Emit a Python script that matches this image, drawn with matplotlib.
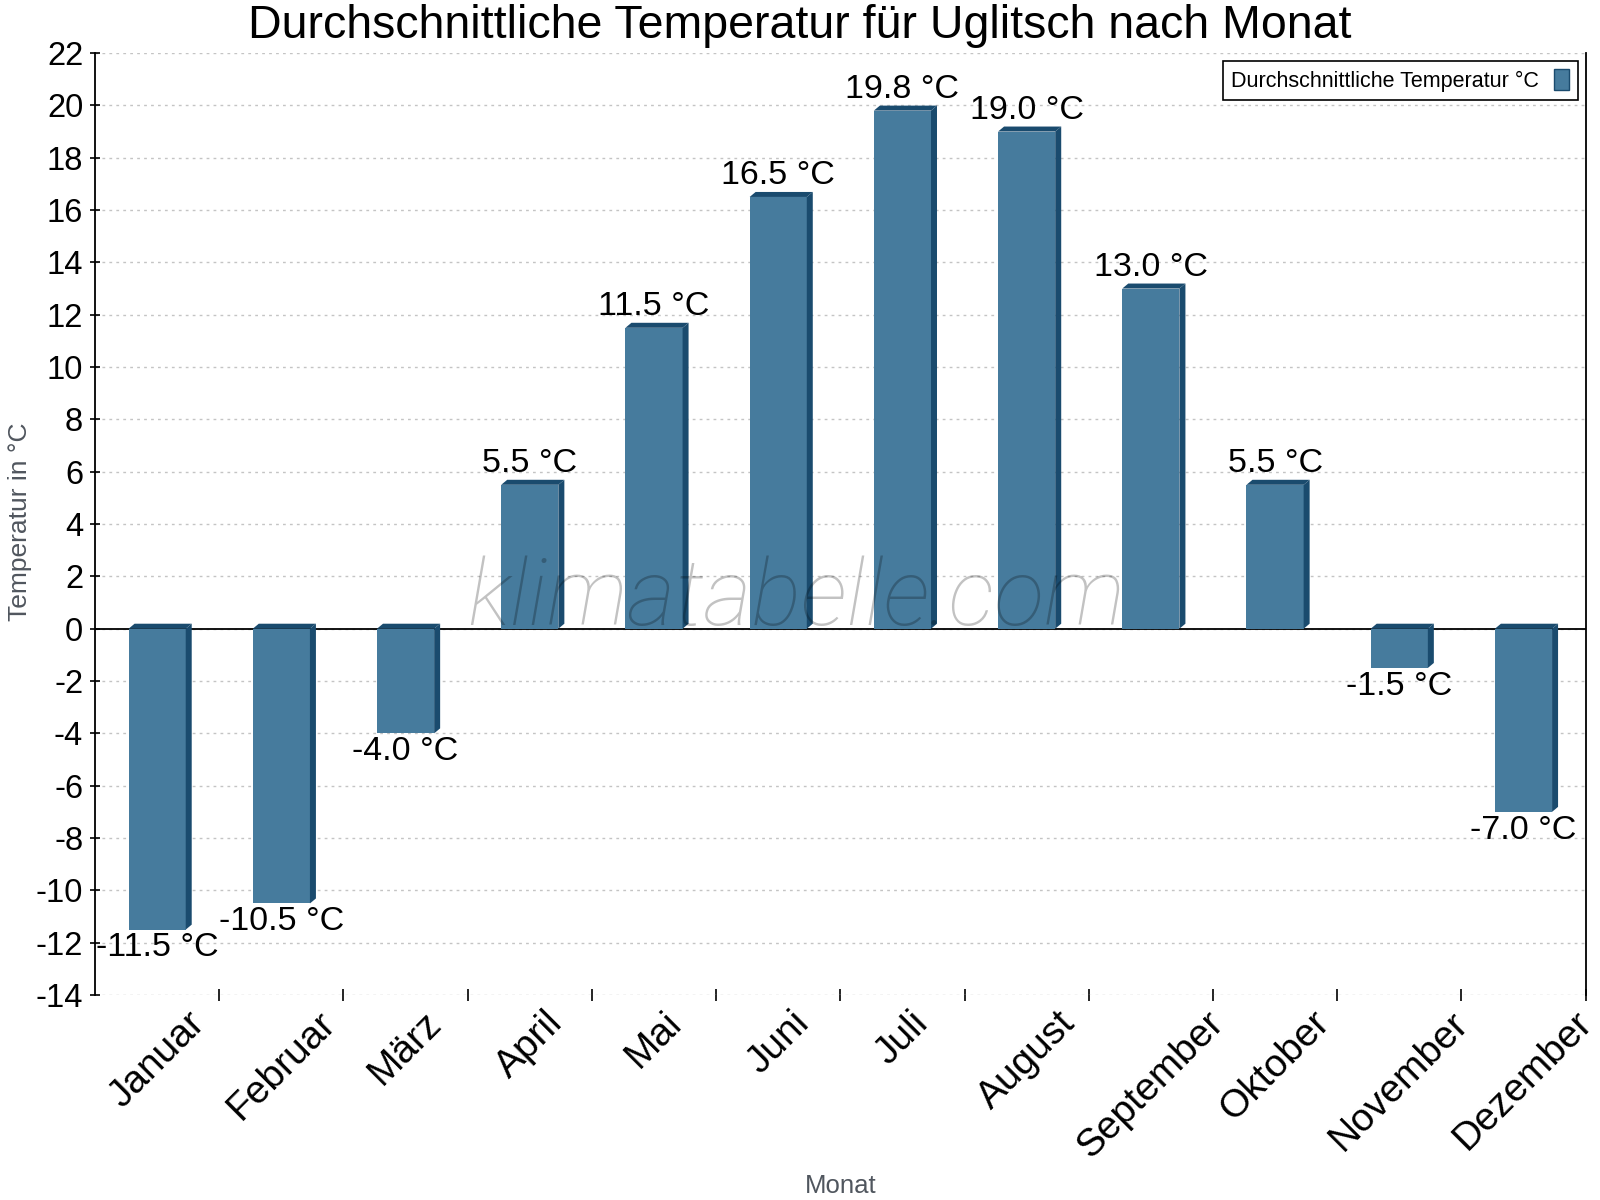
import matplotlib
matplotlib.use("Agg")
import matplotlib.pyplot as plt
import matplotlib.transforms as mtransforms
from matplotlib.patches import Polygon, Patch
import numpy as np

plt.rcParams['font.family'] = ['Liberation Sans', 'DejaVu Sans']

# Daten
monate = ['Januar', 'Februar', 'März', 'April', 'Mai', 'Juni', 'Juli',
          'August', 'September', 'Oktober', 'November', 'Dezember']
temperaturen = [-11.5, -10.5, -4.0, 5.5, 11.5, 16.5, 19.8, 19.0, 13.0, 5.5, -1.5, -7.0]
y_ticks = list(range(-14, 23, 2))

titel = 'Durchschnittliche Temperatur für Uglitsch nach Monat'
serie = 'Durchschnittliche Temperatur °C'

FRONT = '#467b9d'
DUNKEL = '#1a4b6e'
GRAU = '#50565e'

fig = plt.figure(figsize=(16, 12), dpi=100)
ax = fig.add_axes([0.0594, 0.1708, 0.9316, 0.785])

x = np.arange(len(monate))
breite = 0.46
ax.set_xlim(-0.5, len(monate) - 0.5)
ax.set_ylim(min(y_ticks), max(y_ticks))

# Vorderseite der Säulen
ax.bar(x, temperaturen, width=breite, color=FRONT, zorder=3)

# 3D-Effekt: Seite und Deckel, Versatz ca. 5-6 px
px_x = (ax.get_xlim()[1] - ax.get_xlim()[0]) / (0.9316 * 1600)
px_y = (ax.get_ylim()[1] - ax.get_ylim()[0]) / (0.785 * 1200)
dx, dy = 6 * px_x, 5 * px_y
for xi, v in zip(x, temperaturen):
    x0, x1 = xi - breite / 2, xi + breite / 2
    y0, y1 = min(0, v), max(0, v)
    seite = Polygon([(x1, y0), (x1 + dx, y0 + dy), (x1 + dx, y1 + dy), (x1, y1)],
                    closed=True, facecolor=DUNKEL, edgecolor='none', zorder=3)
    deckel = Polygon([(x0, y1), (x0 + dx, y1 + dy), (x1 + dx, y1 + dy), (x1, y1)],
                     closed=True, facecolor=DUNKEL, edgecolor='none', zorder=3)
    ax.add_patch(seite)
    ax.add_patch(deckel)

    label = f'{v:.1f} °C'
    if v >= 0:
        ax.annotate(label, (xi, v), xytext=(0, 4), textcoords='offset points',
                    ha='center', va='bottom', fontsize=24.5, zorder=5)
    else:
        ax.annotate(label, (xi, v), xytext=(0, -2), textcoords='offset points',
                    ha='center', va='top', fontsize=24.5, zorder=5)

# Nulllinie
ax.axhline(0, color='black', linewidth=1.3, zorder=2)

# Achsen
ax.set_yticks(y_ticks)
ax.set_yticklabels([str(t) for t in y_ticks])
ax.set_xticks(x)
ax.set_xticklabels(monate, rotation=45, ha='center')
ax.set_xticks(np.arange(len(monate)) + 0.5, minor=True)
ax.tick_params(axis='x', which='major', length=0, pad=7, labelsize=28)
ax.tick_params(axis='x', which='minor', length=8, width=1.2, direction='inout')
ax.tick_params(axis='y', length=7, width=1.2, direction='inout', pad=5, labelsize=23.5)

ax.grid(axis='y', color='#c4c4c4', linestyle=(0, (2, 3)), linewidth=1, zorder=0)
ax.set_axisbelow(True)

ax.spines['top'].set_visible(False)
ax.spines['bottom'].set_visible(False)
ax.spines['left'].set_linewidth(1.3)
ax.spines['right'].set_linewidth(1.3)

# Wasserzeichen (x in Achsenanteilen, y in Daten)
trans = mtransforms.blended_transform_factory(ax.transAxes, ax.transData)
ax.text(0.47, 0.15, 'klimatabelle.com', transform=trans,
        ha='center', va='baseline', fontsize=67, family='Roboto',
        fontweight='light', style='italic', color='black', alpha=0.24, zorder=4)

# Titel und Beschriftungen
fig.text(0.5, 1 - 38 / 1200, titel, ha='center', va='baseline', fontsize=33.5)
fig.text(0.0594 + 0.9316 / 2, 1 - 1193 / 1200, 'Monat', ha='center', va='baseline',
         fontsize=18.5, color=GRAU)
fig.text(20 / 1600, 1 - 522 / 1200, 'Temperatur in °C', ha='center', va='center',
         rotation=90, fontsize=19, color=GRAU)

# Legende
leg = ax.legend(handles=[Patch(facecolor=FRONT, edgecolor=DUNKEL, linewidth=1)],
                labels=[serie], loc='upper right', fontsize=15.5, markerfirst=False,
                fancybox=False, framealpha=1, edgecolor='black',
                handlelength=0.7, handleheight=1.1, borderaxespad=0.35,
                borderpad=0.4, handletextpad=0.7)
leg.get_frame().set_linewidth(1.2)
leg.set_zorder(6)

fig.savefig('out.png', dpi=100)
